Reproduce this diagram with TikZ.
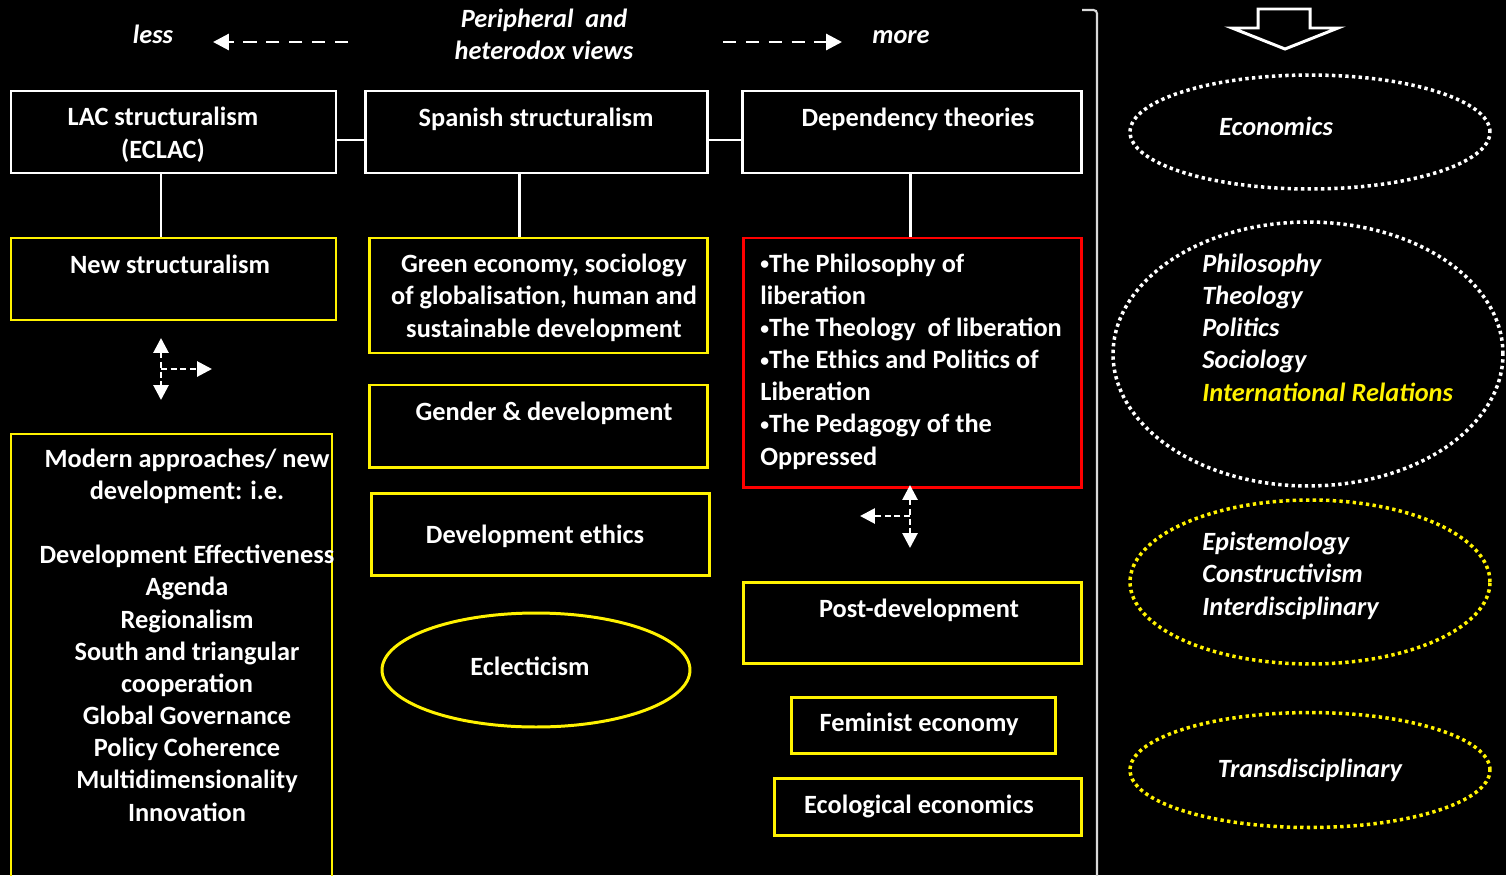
\documentclass[tikz,border=0pt]{standalone}
\usepackage{fontspec}
\setmainfont{Carlito}
\usetikzlibrary{arrows.meta,positioning,fit,shapes.geometric}

\newcommand\smbul{\raisebox{1.3pt}{\fontsize{10}{10}\selectfont•}}

\tikzset{
  wbox/.style={draw=white,line width=1.7pt,inner sep=0pt},
  ybox/.style={draw=yellow,line width=1.7pt,inner sep=0pt},
  rbox/.style={draw=red,line width=1.7pt,inner sep=0pt},
  txt/.style={text=white,font=\fontsize{15}{18.3}\selectfont\bfseries,align=center,inner sep=0pt,anchor=base},
  ltxt/.style={txt,align=left,anchor=base west},
  itxt/.style={txt,font=\fontsize{15}{18.3}\selectfont\bfseries\itshape},
  iltxt/.style={itxt,align=left,anchor=base west},
  dotring/.style={ellipse,draw=#1,line width=2pt,dash pattern=on 1.9pt off 1.9pt,inner sep=0pt},
  link/.style={white,line width=1.7pt},
  farrow/.style={white,line width=1.7pt,dash pattern=on 7.5pt off 5.5pt,-{Triangle[length=9pt,width=9pt]}},
  sarrow/.style={white,line width=1.6pt,dash pattern=on 3.5pt off 2pt},
  stip/.tip={Triangle[length=8.5pt,width=8.5pt]},
}

\begin{document}
\begin{tikzpicture}[x=0.02cm,y=-0.02cm]

\useasboundingbox (0,0) rectangle (1506,875);
\fill[black] (0,0) rectangle (1506,875);

% Kopfzeile (mehrzeilige Texte: Position = Grundlinie der letzten Zeile)
\node[itxt] (less) at (153,44) {less};
\node[itxt] (periph) at (544,60) {Peripheral~ and\\heterodox views};
\node[itxt] (more) at (901,44) {more};
\coordinate (lessA) at (348,42);
\coordinate (lessB) at (213,42);
\coordinate (moreA) at (723,42);
\coordinate (moreB) at (842,42);
\draw[farrow] (lessA)--(lessB);
\draw[farrow] (moreA)--(moreB);

% Obere Reihe
\node[wbox,fit={(11,91) (336,173)}] (lac) {};
\node[wbox,fit={(365,91) (707,173)}] (span) {};
\node[wbox,fit={(742,91) (1081,173)}] (dep) {};
\node[txt] (lact) at (163,158) {LAC structuralism\\(ECLAC)};
\node[txt] (spant) at (536,126) {Spanish structuralism};
\node[txt] (dept) at (918,126) {Dependency theories};

\draw[link] ([yshift=-0.16cm]lac.east)--([yshift=-0.16cm]span.west);
\draw[link] ([yshift=-0.16cm]span.east)--([yshift=-0.16cm]dep.west);

% Spalte links
\node[ybox,fit={(11,238) (336,320)}] (newst) {};
\node[txt] (newstt) at (170,273) {New structuralism};
\draw[link] (161,0 |- lac.south)--(161,0 |- newst.north);

\coordinate (lcross) at (161,369);
\coordinate (lup) at (161,338);
\coordinate (ldown) at (161,400);
\coordinate (lright) at (212,369);
\draw[sarrow,stip-stip] (lup)--(ldown);
\draw[sarrow,-stip] (lcross)--(lright);

\node[ybox,fit={(11,434) (332,880)}] (modern) {};
\node[txt] (modernt) at (187,821) {Modern approaches/ new\\development: i.e.\\[18.3pt]
  Development Effectiveness\\Agenda\\Regionalism\\South and triangular\\cooperation\\
  Global Governance\\Policy Coherence\\Multidimensionality\\Innovation};

% Spalte mitte
\node[ybox,fit={(369,238) (707,353)}] (green) {};
\node[txt] (greent) at (544,337) {Green economy, sociology\\of globalisation, human and\\sustainable development};
\draw[link] (519,0 |- span.south)--(519,0 |- green.north);

\node[ybox,fit={(369,385) (707,467)}] (gender) {};
\node[txt] (gendert) at (544,420) {Gender \& development};

\node[ybox,fit={(371,493) (709,575)}] (ethics) {};
\node[txt] (ethicst) at (535,543) {Development ethics};

\node[ellipse,draw=yellow,line width=1.7pt,minimum width=6.16cm,minimum height=2.28cm,inner sep=0pt] (eclec) at (536,670) {};
\node[txt] (eclect) at (530,675) {Eclecticism};

% Spalte rechts
\node[rbox,fit={(743,238) (1081,487)}] (libr) {};
\node[ltxt] (librt) at (760,465) {\smbul The Philosophy of\\liberation\\\smbul The Theology~ of liberation\\
  \smbul The Ethics and Politics of\\Liberation\\\smbul The Pedagogy of the\\Oppressed};
\draw[link] (910,0 |- dep.south)--(910,0 |- libr.north);

\coordinate (rcross) at (910,516);
\coordinate (rup) at (910,485);
\coordinate (rdown) at (910,548);
\coordinate (rleft) at (860,516);
\draw[sarrow,stip-stip] (rup)--(rdown);
\draw[sarrow,-stip] (rcross)--(rleft);

\node[ybox,fit={(743,582) (1081,663)}] (postdev) {};
\node[txt] (postdevt) at (919,617) {Post-development};
\node[ybox,fit={(791,697) (1055,753)}] (femin) {};
\node[txt] (femint) at (919,731) {Feminist economy};
\node[ybox,fit={(774,778) (1081,835)}] (ecol) {};
\node[txt] (ecolt) at (919,813) {Ecological economics};

% Trennlinie
\draw[white!85!black,line width=1.2pt,rounded corners=2pt] (1082,10)--(1097,10)--(1097,880);

% Disziplinen
\draw[white,line width=1.7pt] (1258,9)--(1310,9)--(1310,28)--(1338,28)--(1285,49)--(1232,28)--(1258,28)--cycle;

\node[dotring=white,minimum width=7.2cm,minimum height=2.28cm] (econ) at (1310,132) {};
\node[itxt] (econt) at (1276,135) {Economics};

\node[dotring=white,minimum width=7.8cm,minimum height=5.28cm] (philo) at (1308,354) {};
\node[iltxt] (philot) at (1202,401) {Philosophy\\Theology\\Politics\\Sociology\\\textcolor{yellow}{International Relations}};

\node[dotring=yellow,minimum width=7.2cm,minimum height=3.28cm] (epist) at (1310,582) {};
\node[iltxt] (epistt) at (1202,615) {Epistemology\\Constructivism\\Interdisciplinary};

\node[dotring=yellow,minimum width=7.2cm,minimum height=2.3cm,text=white,
  font=\fontsize{15}{18.3}\selectfont\bfseries\itshape] (trans) at (1310,770) {Transdisciplinary};

\end{tikzpicture}
\end{document}
